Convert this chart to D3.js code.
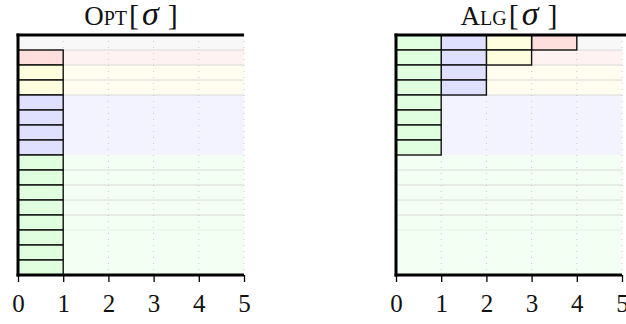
<!DOCTYPE html>
<html>
<head>
<meta charset="utf-8">
<script src="https://cdn.jsdelivr.net/npm/d3@7"></script>
<style>
  body { margin: 0; background: #fff; }
  text { font-family: "Liberation Serif", "DejaVu Serif", serif; fill: #111; }
</style>
</head>
<body>
<svg id="chart" width="626" height="324"></svg>
<script>
// request classes, how many boxes each has
const classes = ["red", "yellow", "blue", "green"]
const classSizes = [1, 2, 4, 8]
// OPT puts every class in column 0, stacked below a free first row
const optColumn = [0, 0, 0, 0]
const optStartRow = [1, 2, 4, 8]
// ALG gives each class its own column, starting at the top
const algColumn = [3, 2, 1, 0]
const algStartRow = [0, 0, 0, 0]
const xTicks = [0, 1, 2, 3, 4, 5]
const rowLines = [1, 2, 3, 4, 9, 10, 11, 12, 13]
const rowCount = 16

const boxFill = { red: "#ffdede", yellow: "#ffffe0", blue: "#dfdfff", green: "#dfffdf" }
const bandFill = { red: "#fff2f2", yellow: "#fffdf0", blue: "#f3f3ff", green: "#f2fff2" }

const svg = d3.select("#chart")

function panel(x0, x1, title, smallTitle, cols, starts, topEnd) {
    const x = d3.scaleLinear().domain([0, 5]).range([x0, x1])
    const y = d3.scaleLinear().domain([0, rowCount]).range([35, 275])
    const g = svg.append("g")

    // first row background (free row)
    g.append("rect")
        .attr("x", x(0)).attr("y", y(0))
        .attr("width", x(5) - x(0)).attr("height", y(1) - y(0))
        .attr("fill", "#f8f8f8")

    // class bands
    g.selectAll(".band")
        .data(classes)
        .enter()
        .append("rect")
        .attr("x", x(0))
        .attr("y", (d, i) => y(optStartRow[i]))
        .attr("width", x(5) - x(0))
        .attr("height", (d, i) => y(classSizes[i]) - y(0))
        .attr("fill", d => bandFill[d])

    // faint row lines
    g.selectAll(".row")
        .data(rowLines)
        .enter()
        .append("line")
        .attr("x1", x(0)).attr("x2", x(5))
        .attr("y1", d => y(d)).attr("y2", d => y(d))
        .attr("stroke", "#d4d4d4")
        .attr("stroke-opacity", d => d > 12 ? 0.35 : 0.85)
        .attr("stroke-width", 1)

    // dotted verticals
    g.selectAll(".grid")
        .data(xTicks.slice(1))
        .enter()
        .append("line")
        .attr("x1", d => x(d)).attr("x2", d => x(d))
        .attr("y1", y(0)).attr("y2", y(rowCount))
        .attr("stroke", "#c8c8c8")
        .attr("stroke-width", 1)
        .attr("stroke-dasharray", "1,5")

    // boxes, one per request
    const boxes = []
    classes.forEach((c, i) => {
        d3.range(classSizes[i]).forEach(k => {
            boxes.push({ c: c, col: cols[i], row: starts[i] + k })
        })
    })
    g.selectAll(".box")
        .data(boxes)
        .enter()
        .append("rect")
        .attr("x", d => x(d.col))
        .attr("y", d => y(d.row))
        .attr("width", x(1) - x(0))
        .attr("height", y(1) - y(0))
        .attr("fill", d => boxFill[d.c])
        .attr("stroke", "#111")
        .attr("stroke-width", 1.4)

    // frame: top, left, bottom
    g.append("line")
        .attr("x1", x(0) - 1.5).attr("x2", topEnd)
        .attr("y1", y(0)).attr("y2", y(0))
        .attr("stroke", "#000").attr("stroke-width", 3)

    const axis = g.append("g")
        .attr("transform", "translate(0," + y(rowCount) + ")")
        .call(d3.axisBottom(x).tickValues(xTicks).tickSize(7).tickFormat(d3.format("d")))
    axis.attr("font-size", null).attr("font-family", null)
    axis.select(".domain").remove()
    axis.selectAll(".tick line").attr("stroke", "#000").attr("stroke-width", 1.3)
    axis.selectAll(".tick text")
        .attr("y", 19)
        .style("font-family", '"Liberation Serif", serif')
        .style("font-size", "25px")
        .attr("fill", "#111")

    g.append("line")
        .attr("x1", x(0) - 1.5).attr("x2", x(5))
        .attr("y1", y(rowCount)).attr("y2", y(rowCount))
        .attr("stroke", "#000").attr("stroke-width", 3)
    g.append("line")
        .attr("x1", x(0)).attr("x2", x(0))
        .attr("y1", y(0) - 1.5).attr("y2", y(rowCount) + 1.5)
        .attr("stroke", "#000").attr("stroke-width", 3)

    // title like \textsc{Opt}[\sigma]
    const t = svg.append("text")
        .attr("x", (x0 + x1) / 2)
        .attr("y", 25)
        .attr("text-anchor", "middle")
        .style("font-size", "27px")
    t.append("tspan").text(title)
    t.append("tspan").style("font-size", "20px").text(smallTitle)
    t.append("tspan").style("font-size", "30px").attr("dx", 2).text("[")
    t.append("tspan").style("font-style", "italic").style("font-size", "34px").attr("dx", 3).text("σ")
    t.append("tspan").style("font-size", "30px").attr("dx", 9).text("]")
}

panel(18, 244, "O", "PT", optColumn, optStartRow, 244)
panel(396, 622, "A", "LG", algColumn, algStartRow, 626)
</script>
</body>
</html>
